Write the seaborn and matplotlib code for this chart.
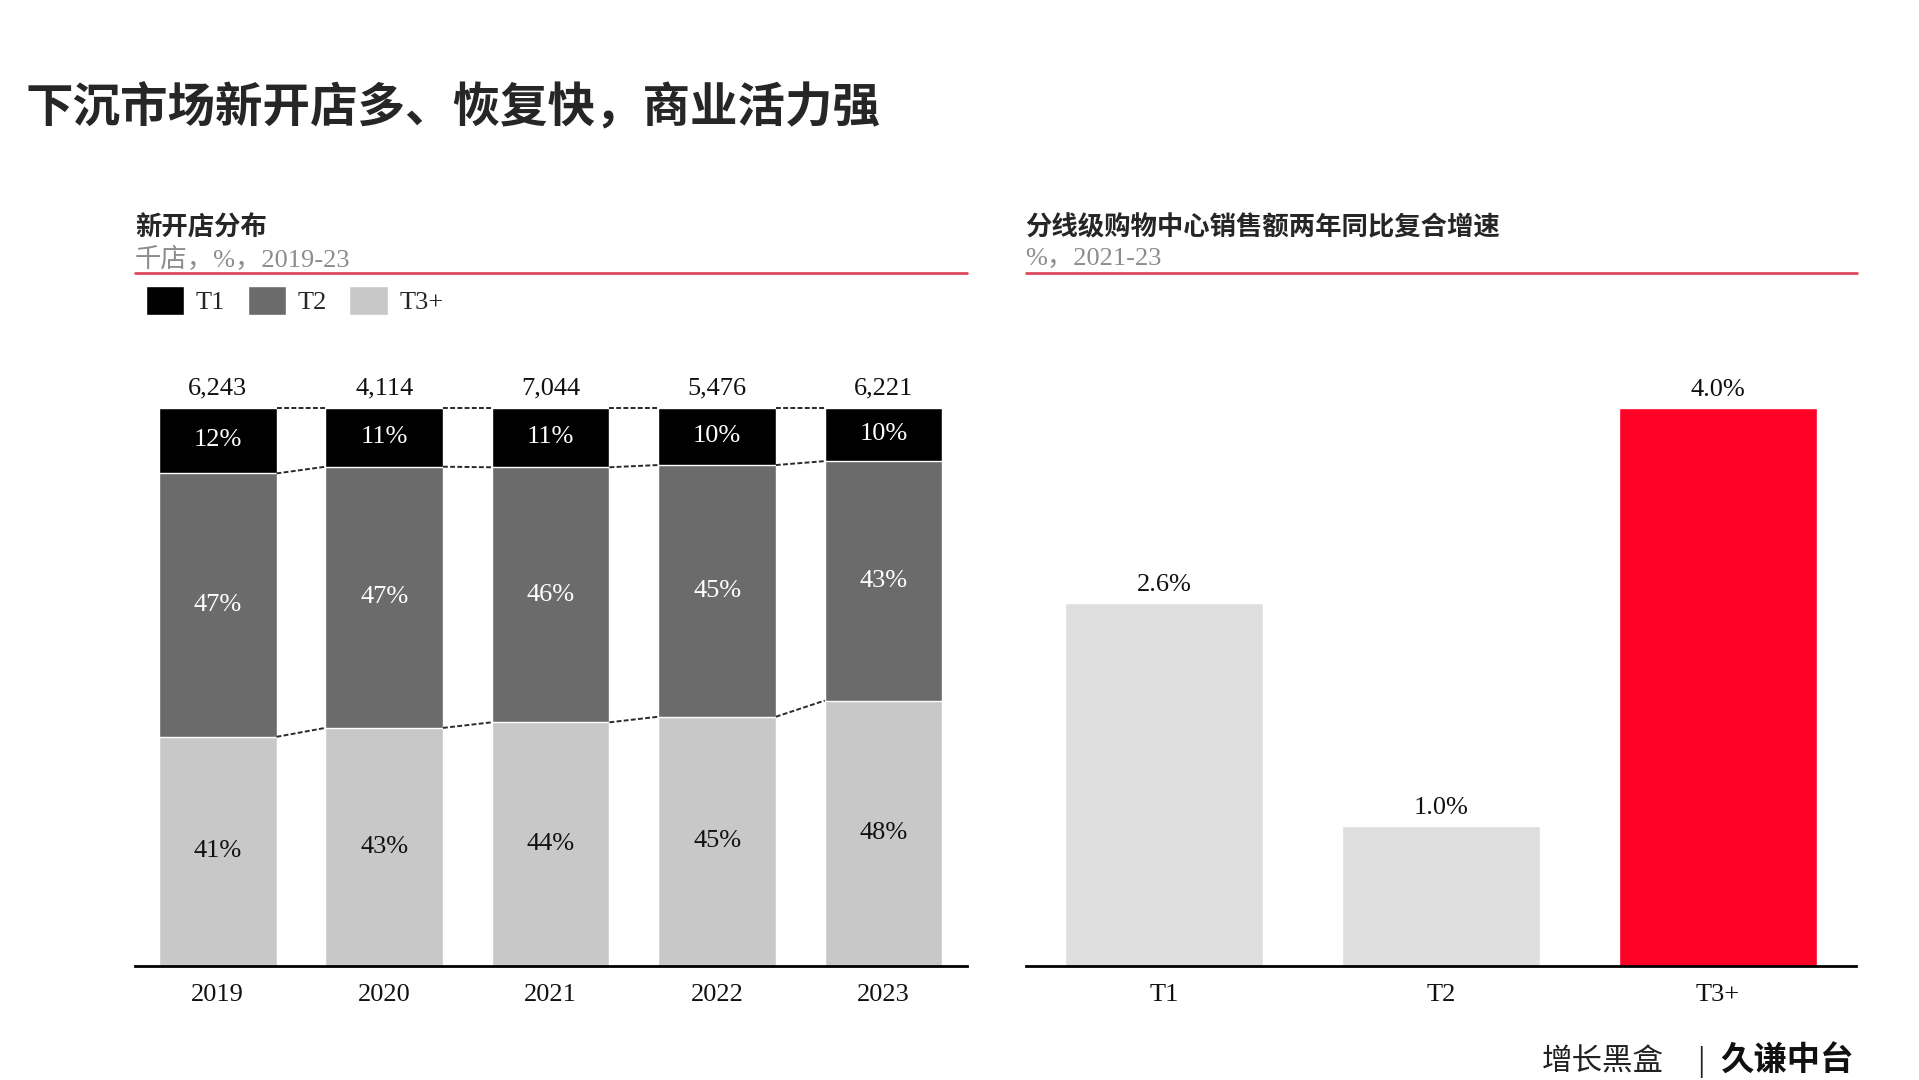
import matplotlib
matplotlib.use("Agg")
import matplotlib.pyplot as plt
from matplotlib.patches import Patch
from matplotlib.lines import Line2D
import seaborn as sns
import pandas as pd
import numpy as np

# 数据
years = ["2019", "2020", "2021", "2022", "2023"]
totals = [6243, 4114, 7044, 5476, 6221]          # 千店
t1_share = [11.8, 10.6, 10.7, 10.3, 9.6]          # %
t2_share = [47.2, 46.8, 45.7, 45.1, 42.9]
t3_share = [41.0, 42.6, 43.6, 44.6, 47.5]

tiers = ["T1", "T2", "T3+"]
growth = [2.6, 1.0, 4.0]                          # %, 2021-23

C_T1, C_T2, C_T3 = "#000000", "#6b6b6b", "#c8c8c8"
RED_LINE = "#dc4a60"
SERIF = ["Liberation Serif", "Noto Sans CJK SC"]
CJK = ["Noto Sans CJK SC", "DejaVu Sans"]

sns.set_theme(style="white")
plt.rcParams["font.family"] = SERIF
plt.rcParams["axes.unicode_minus"] = False

fig = plt.figure(figsize=(19.19, 10.80), dpi=100)
fig.patch.set_facecolor("white")

ytop = 100 * 585.6 / 558.1
ax1 = fig.add_axes([0.0701, 0.1059, 0.4337, 0.5422])
ax2 = fig.add_axes([0.5344, 0.1059, 0.4330, 0.5422])

# ---- 左图：新开店分布（100% 堆叠） ----
df = pd.DataFrame({"year": years, "T1": t1_share, "T2": t2_share, "T3": t3_share})
df["top"] = df["T1"] + df["T2"] + df["T3"]
df["mid"] = df["T2"] + df["T3"]
bw = 0.706
sns.barplot(data=df, x="year", y="top", color=C_T1, width=bw, saturation=1, ax=ax1)
sns.barplot(data=df, x="year", y="mid", color=C_T2, width=bw, saturation=1, ax=ax1)
sns.barplot(data=df, x="year", y="T3", color=C_T3, width=bw, saturation=1, ax=ax1)

# 虚线连接
for lvl in [df["T3"].values, df["mid"].values, df["top"].values]:
    for i in range(len(years) - 1):
        ax1.plot([i + bw / 2, i + 1 - bw / 2], [lvl[i], lvl[i + 1]],
                 ls=(0, (2.5, 1.2)), lw=1.4, color="#2a2a2a")

for i in range(len(years)):
    t3, mid, top = df["T3"][i], df["mid"][i], df["top"][i]
    ax1.text(i, t3 / 2, f"{t3:.0f}%", ha="center", va="center", fontsize=19, color="#111111")
    ax1.text(i, (t3 + mid) / 2, f"{df['T2'][i]:.0f}%", ha="center", va="center", fontsize=19, color="white")
    ax1.text(i, (mid + top) / 2, f"{df['T1'][i]:.0f}%", ha="center", va="center", fontsize=19, color="white")
    ax1.annotate(f"{totals[i]:,}", (i, top), xytext=(0, 6), textcoords="offset points",
                 ha="center", va="bottom", fontsize=19, color="#111111")

ax1.set_ylim(0, ytop)
ax1.set_xlim(-0.5, len(years) - 0.5)

# ---- 右图：复合增速 ----
df2 = pd.DataFrame({"tier": tiers, "growth": growth})
sns.barplot(data=df2, x="tier", y="growth", hue="tier",
            palette=["#dedede", "#dedede", "#ff0026"], width=0.717, saturation=1,
            legend=False, ax=ax2)
for i, v in enumerate(growth):
    ax2.annotate(f"{v:.1f}%", (i, v), xytext=(0, 5), textcoords="offset points",
                 ha="center", va="bottom", fontsize=19, color="#111111")
ax2.set_ylim(0, 4.0 * ytop / 100)
ax2.set_xlim(-0.5, len(tiers) - 0.5)

for ax in (ax1, ax2):
    ax.set_xlabel("")
    ax.set_ylabel("")
    ax.set_yticks([])
    for s in ["top", "left", "right"]:
        ax.spines[s].set_visible(False)
    ax.spines["bottom"].set_color("black")
    ax.spines["bottom"].set_linewidth(2)
    ax.tick_params(axis="x", length=0, pad=13, labelsize=19, labelcolor="#111111")
    ax.set_facecolor("white")

# ---- 文字 ----
fig.text(25 / 1919, 1 - 109 / 1080, "下沉市场新开店多、恢复快，商业活力强",
         family=CJK, fontsize=34.2, fontweight="heavy", va="center", ha="left")

fig.text(135 / 1919, 1 - 228 / 1080, "新开店分布", family=CJK, fontsize=19,
         fontweight="bold", va="center")
fig.text(135 / 1919, 1 - 259 / 1080, "千店，%，2019-23", family=SERIF, fontsize=19,
         color="#8c8c8c", va="center")
fig.text(1025.5 / 1919, 1 - 228 / 1080, "分线级购物中心销售额两年同比复合增速", family=CJK,
         fontsize=19, fontweight="bold", va="center")
fig.text(1025.5 / 1919, 1 - 259 / 1080, "%，2021-23", family=SERIF, fontsize=19,
         color="#8c8c8c", va="center")

for x0, x1 in [(134.6, 966.8), (1025.5, 1856.5)]:
    fig.add_artist(Line2D([x0 / 1919, x1 / 1919], [1 - 273 / 1080] * 2, color=RED_LINE, lw=2))

handles = [Patch(facecolor=C_T1), Patch(facecolor=C_T2), Patch(facecolor=C_T3)]
fig.legend(handles, ["T1", "T2", "T3+"], loc="upper left",
           bbox_to_anchor=(145.6 / 1919, 1 - 286 / 1080), ncol=3, frameon=False,
           fontsize=19, handlelength=1.45, handleheight=1.3, handletextpad=0.45,
           columnspacing=0.85, borderpad=0, borderaxespad=0)

# 底部标识
fig.text(1542 / 1919, 1 - 1078 / 1080, "增长黑盒", family=CJK, fontsize=22,
         color="#222222", va="bottom", ha="left")
fig.text(1697 / 1919, 1 - 1078 / 1080, "|", family=CJK, fontsize=20,
         color="#222222", va="bottom", ha="left")
fig.text(1720 / 1919, 1 - 1078 / 1080, "久谦中台", family=CJK, fontsize=24,
         fontweight="heavy", color="#111111", va="bottom", ha="left")

fig.savefig("out.png", dpi=100, facecolor="white")
